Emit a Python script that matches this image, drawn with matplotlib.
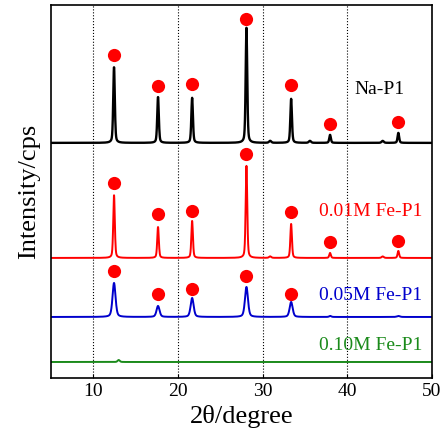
import numpy as np
import matplotlib.pyplot as plt

plt.rcParams['font.family'] = ['Liberation Serif', 'DejaVu Serif']

# peak positions (2theta)
peaks = [12.45, 17.65, 21.68, 28.1, 33.38, 37.98, 46.05]

# sample names, colours, baseline offsets and peak heights (arbitrary units)
samples = ['Na-P1', '0.01M Fe-P1', '0.05M Fe-P1', '0.10M Fe-P1']
colors = ['black', 'red', '#0000cc', '#1a8a1a']
baselines = [235, 120, 61, 16]
heights = [
    [76, 46, 45, 115, 44, 8, 10],
    [63, 31, 37, 92, 34, 5, 7],
    [34, 11, 19, 30, 15, 0, 1],
    [0, 0, 0, 0, 0, 0, 0],
]
widths = [0.22, 0.22, 0.42, 0.5]

# small extra bumps seen on the traces: (position, height)
minor = [
    [(30.9, 2), (35.6, 2), (44.2, 2)],
    [(30.9, 1.5), (44.2, 1.5)],
    [(38.0, 1)],
    [(13.0, 2)],
]

# red dot markers (only on first three patterns)
dot_y = [
    [323, 292, 294, 359, 293, 254, 256],
    [195, 164, 167, 224, 166, 136, 137],
    [107, 84, 89, 102, 84],
]

label_x = [46.8, 48.9, 48.9, 48.9]
label_y = [288, 166, 82, 32]

x = np.arange(5, 50.001, 0.02)


def profile(x, c, h, w):
    g = np.exp(-4 * np.log(2) * (x - c) ** 2 / w ** 2)
    l = 1 / (1 + 4 * (x - c) ** 2 / w ** 2)
    return h * (0.6 * g + 0.4 * l)


fig = plt.figure(figsize=(4.48, 4.37), dpi=100)
ax = fig.add_axes([0.1138, 0.135, 0.850, 0.854])

for i, name in enumerate(samples):
    y = np.full_like(x, baselines[i], dtype=float)
    for c, h in zip(peaks, heights[i]):
        y += profile(x, c, h, widths[i])
    for c, h in minor[i]:
        y += profile(x, c, h, 0.3)
    ax.plot(x, y, color=colors[i], lw=1.7 if i == 0 else 1.4)
    ax.text(label_x[i], label_y[i], name, color=colors[i], fontsize=14,
            ha='right', va='center')

for i, ys in enumerate(dot_y):
    ax.plot(peaks[:len(ys)], ys, 'o', color='#ff0000', ms=9.5, mec='none')

ax.set_xlim(5, 50)
ax.set_ylim(0, 373)
ax.set_xticks([10, 20, 30, 40, 50])
ax.set_yticks([])
ax.tick_params(axis='x', direction='in', labelsize=14, length=3)
ax.grid(axis='x', linestyle=':', color='black', lw=0.8)
for s in ax.spines.values():
    s.set_linewidth(1.2)

ax.set_xlabel('2θ/degree', fontsize=19)
ax.set_ylabel('Intensity/cps', fontsize=19, labelpad=8)

fig.savefig('out.png', dpi=100)
